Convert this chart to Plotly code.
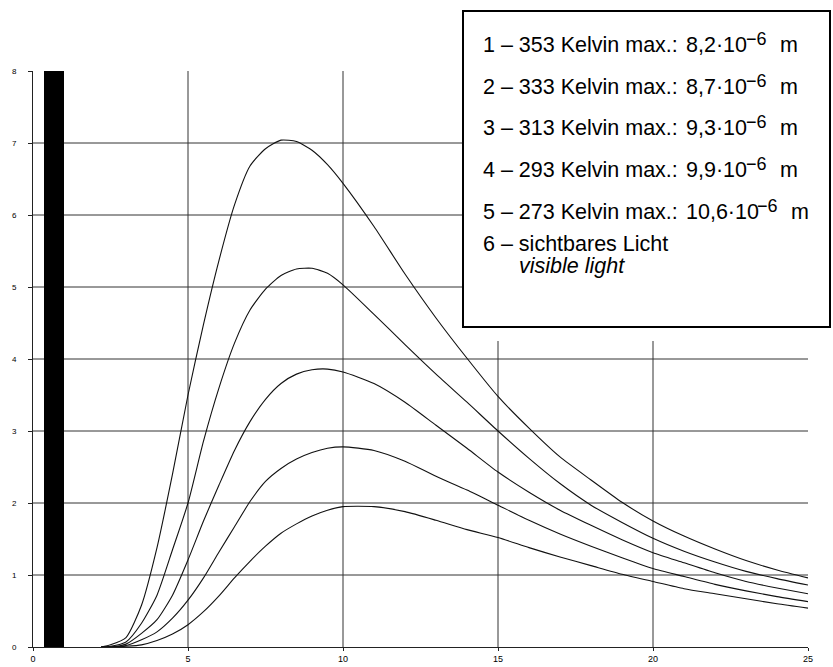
import plotly.graph_objects as go

# ---------------- data ----------------
wavelength = [2.2, 2.5, 3, 3.5, 4, 4.5, 5, 5.5, 6, 6.5, 7, 7.5, 8, 8.5, 9, 9.5, 10,
              11, 12, 13, 14, 15, 16, 17, 18, 19, 20, 21, 22, 23, 24, 25]

curve_353K = [0.0, 0.03, 0.13, 0.58, 1.38, 2.40, 3.50, 4.48, 5.37, 6.14, 6.68, 6.92, 7.04, 7.02, 6.90, 6.70, 6.44,
              5.84, 5.18, 4.57, 4.01, 3.48, 3.04, 2.64, 2.32, 2.01, 1.75, 1.54, 1.36, 1.20, 1.07, 0.96]
curve_333K = [0.0, 0.01, 0.07, 0.33, 0.72, 1.35, 2.00, 2.86, 3.60, 4.22, 4.68, 4.97, 5.16, 5.25, 5.26, 5.19, 5.03,
              4.62, 4.20, 3.79, 3.40, 3.00, 2.62, 2.27, 1.97, 1.73, 1.51, 1.33, 1.18, 1.05, 0.95, 0.86]
curve_313K = [0.0, 0.0, 0.04, 0.19, 0.38, 0.72, 1.21, 1.75, 2.25, 2.73, 3.13, 3.44, 3.66, 3.79, 3.85, 3.86, 3.82,
              3.66, 3.40, 3.08, 2.76, 2.43, 2.15, 1.90, 1.69, 1.49, 1.31, 1.17, 1.03, 0.91, 0.82, 0.74]
curve_293K = [0.0, 0.0, 0.02, 0.10, 0.21, 0.40, 0.65, 0.96, 1.32, 1.67, 2.02, 2.30, 2.48, 2.61, 2.70, 2.76, 2.78,
              2.73, 2.58, 2.37, 2.18, 1.97, 1.76, 1.57, 1.40, 1.24, 1.09, 0.98, 0.87, 0.78, 0.70, 0.63]
curve_273K = [0.0, 0.0, 0.01, 0.03, 0.09, 0.18, 0.31, 0.49, 0.71, 0.96, 1.19, 1.40, 1.58, 1.71, 1.82, 1.90, 1.95,
              1.95, 1.88, 1.76, 1.63, 1.52, 1.38, 1.25, 1.13, 1.01, 0.91, 0.81, 0.74, 0.67, 0.60, 0.54]

curves = [curve_353K, curve_333K, curve_313K, curve_293K, curve_273K]

visible_light_start = 0.37
visible_light_end = 1.0
visible_light_height = 8

x_ticks = [0, 5, 10, 15, 20, 25]
y_ticks = [0, 1, 2, 3, 4, 5, 6, 7, 8]
x_grid = [5, 10, 15, 20]
y_grid = [1, 2, 3, 4, 5, 6, 7]

legend_labels = [
    "1 – 353 Kelvin max.:",
    "2 – 333 Kelvin max.:",
    "3 – 313 Kelvin max.:",
    "4 – 293 Kelvin max.:",
    "5 – 273 Kelvin max.:",
]
legend_values = ["8,2·10", "8,7·10", "9,3·10", "9,9·10", "10,6·10"]
legend_exponent = "−6"
legend_unit = "m"
legend_light = "6 – sichtbares Licht"
legend_italic = "<i>visible light</i>"

# ---------------- figure ----------------
FONT = "Liberation Sans, Arial, sans-serif"
W, H = 833, 667
ML, MR, MT, MB = 33, 25, 71, 20
PW, PH = W - ML - MR, H - MT - MB


def px_x(p):
    return (p - ML) / PW


def px_y(p):
    return (H - MB - p) / PH


fig = go.Figure()

fig.add_trace(go.Bar(
    x=[(visible_light_start + visible_light_end) / 2],
    y=[visible_light_height],
    width=[visible_light_end - visible_light_start],
    marker=dict(color="black", line=dict(width=0)),
    showlegend=False, hoverinfo="skip",
))

for c in curves:
    fig.add_trace(go.Scatter(
        x=wavelength, y=c, mode="lines",
        line=dict(color="#111111", width=1.1, shape="spline", smoothing=0.6),
        showlegend=False, hoverinfo="skip",
    ))

shapes = []
for gy in y_grid:
    shapes.append(dict(type="line", xref="x", yref="y", x0=0, x1=25, y0=gy, y1=gy,
                       line=dict(color="#333333", width=1), layer="below"))
for gx in x_grid:
    shapes.append(dict(type="line", xref="x", yref="y", x0=gx, x1=gx, y0=0, y1=8,
                       line=dict(color="#333333", width=1), layer="below"))

# white margin under the legend box
shapes.append(dict(type="rect", xref="paper", yref="paper",
                   x0=px_x(462), x1=px_x(832), y0=px_y(341), y1=px_y(10),
                   fillcolor="white", line=dict(width=0), layer="above"))
# legend box
shapes.append(dict(type="rect", xref="paper", yref="paper",
                   x0=px_x(463), x1=px_x(830), y0=px_y(327), y1=px_y(11),
                   fillcolor="white", line=dict(color="black", width=2), layer="above"))


def ann(text, x, y, size, anchor="left"):
    return dict(text=text, xref="paper", yref="paper", x=px_x(x), y=px_y(y),
                xanchor=anchor, yanchor="middle", showarrow=False,
                borderpad=0, borderwidth=0,
                font=dict(family=FONT, size=size, color="black"))


annotations = []
line_centers = [45, 86.7, 128.3, 170, 211.7]
for i, (lab, val, cy) in enumerate(zip(legend_labels, legend_values, line_centers)):
    shift = 11 if i == 4 else 0
    annotations.append(ann(lab, 483, cy, 21.5))
    annotations.append(ann(val, 686, cy, 21.5))
    annotations.append(ann(legend_exponent, 746 + shift, cy - 6, 18))
    annotations.append(ann(legend_unit, 780 + shift, cy, 21.5))
annotations.append(ann(legend_light, 483, 243.7, 21.5))
annotations.append(ann(legend_italic, 519, 266, 21.5))

fig.update_layout(
    width=W, height=H,
    margin=dict(l=ML, r=MR, t=MT, b=MB, autoexpand=False),
    paper_bgcolor="white", plot_bgcolor="white",
    showlegend=False, bargap=0,
    shapes=shapes, annotations=annotations,
    font=dict(family=FONT, color="black"),
)
fig.update_xaxes(range=[0, 25], tickvals=x_ticks, ticktext=[str(v) for v in x_ticks],
                 showgrid=False, zeroline=False, showline=True, linecolor="#222222", linewidth=1,
                 ticks="outside", ticklen=3, tickcolor="#222222", tickfont=dict(size=9, family=FONT),
                 automargin=False, fixedrange=True)
fig.update_yaxes(range=[0, 8], tickvals=y_ticks, ticktext=[str(v) for v in y_ticks],
                 showgrid=False, zeroline=False, showline=True, linecolor="#222222", linewidth=1,
                 ticks="outside", ticklen=4, tickcolor="#222222", tickfont=dict(size=8, family=FONT),
                 ticklabelstandoff=10, automargin=False, fixedrange=True)

fig.write_html("out.html", config={"displayModeBar": False},
               post_script="document.body.style.margin='0';document.body.style.overflow='hidden';")
